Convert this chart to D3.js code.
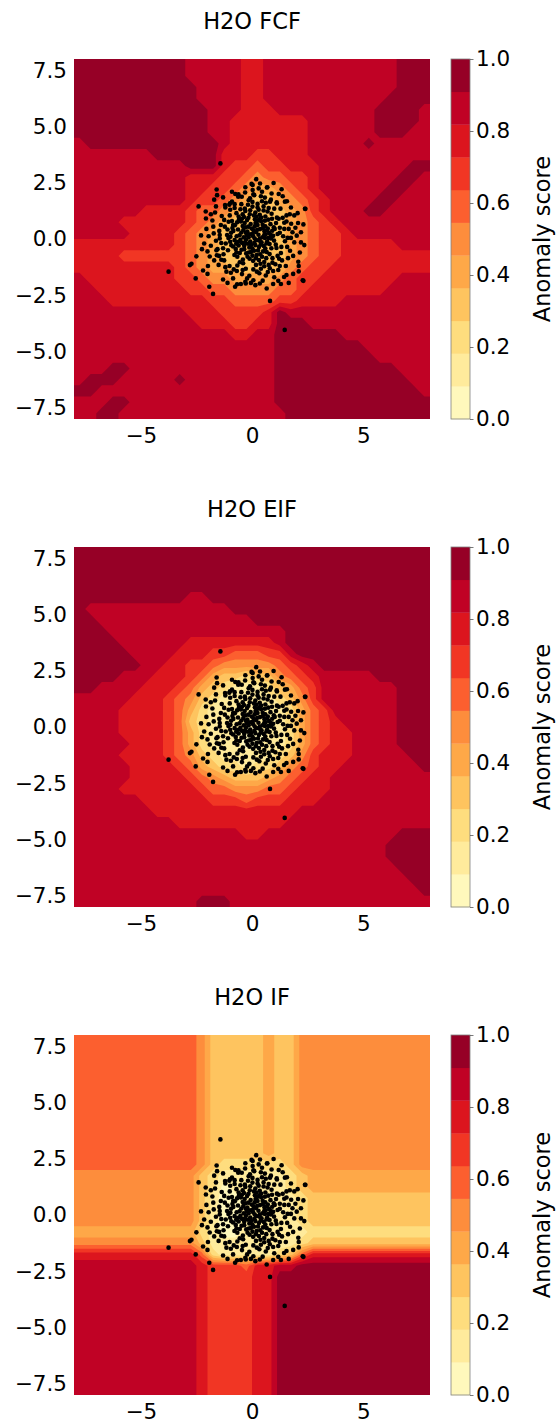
<!DOCTYPE html>
<html>
<head>
<meta charset="utf-8">
<script src="https://cdn.jsdelivr.net/npm/d3@7"></script>
<style>
  body { margin: 0; background: #fff; }
  svg text { font-family: "DejaVu Sans", sans-serif; fill: #000; }
</style>
</head>
<body>
<div class="canvas"></div>
<script>
// margins and dimensions
const w = 557;
const h = 1424;
const margin = { left: 74, top: 59 };
const plotW = 356;
const plotH = 360;
const panelStep = 488;
const cbX = 451;
const cbW = 19;

// chart values
const titles = ["H2O FCF", "H2O EIF", "H2O IF"];
const xTicks = [-5, 0, 5];
const yTicks = [7.5, 5, 2.5, 0, -2.5, -5, -7.5];
const cbTicks = [0, 0.2, 0.4, 0.6, 0.8, 1.0];
const extent = [-8, 8];
const nLevels = 11;
const gridN = 32;

// score level of each 0.5 x 0.5 cell, top row first, run-length coded:
// "a10" = level 10 for 10 cells, "95" = level 9 for 5 cells (level k = k/11 .. (k+1)/11)
const fcfRows = [
  "a10 95 82 912 a3",
  "a10 95 82 912 a3",
  "a11 94 82 912 a3",
  "a11 94 82 911 a4",
  "a12 93 83 99 a4 91",
  "a12 92 87 96 a4 91",
  "a12 92 87 96 a3 92",
  "91 a12 91 87 95 a1 95",
  "97 a6 83 72 83 911",
  "910 a3 81 72 61 72 83 98 a2",
  "910 83 72 61 51 62 72 81 97 a2 91",
  "910 82 72 61 51 42 51 61 71 81 96 a2 92",
  "910 81 72 61 51 41 32 41 51 61 71 81 94 a2 93",
  "96 84 71 62 51 41 34 41 51 71 81 93 a2 94",
  "94 86 71 61 51 41 35 41 51 61 71 81 98",
  "95 84 71 61 51 41 36 41 51 61 72 81 97",
  "89 71 61 51 41 36 41 51 61 72 85 93",
  "84 76 61 51 41 36 41 51 61 72 88",
  "89 71 61 51 42 35 51 61 72 89",
  "91 88 72 61 52 44 51 61 72 87 93",
  "92 88 72 62 54 62 71 87 94",
  "93 89 72 64 72 84 98",
  "910 83 74 81 a1 913",
  "911 83 72 82 a3 911",
  "914 82 92 a6 98",
  "918 a8 96",
  "918 a9 95",
  "93 a2 913 a11 93",
  "91 a3 95 a1 98 a12 92",
  "a2 916 a13 91",
  "93 a2 913 a14",
  "92 a2 915 a13"
];

const eifRows = [
  "a32",
  "a32",
  "a32",
  "a32",
  "a10 92 a20",
  "a1 913 a18",
  "a2 914 a16",
  "a3 916 a13",
  "a4 96 88 91 a13",
  "a5 94 83 72 63 72 91 a12",
  "a6 92 82 72 61 55 61 71 81 91 a10",
  "a4 93 83 71 61 41 32 21 32 51 61 71 81 95 a5",
  "a2 94 83 71 61 41 31 21 13 21 31 41 61 71 97 a3",
  "95 83 71 61 51 31 21 15 21 31 51 71 97 a3",
  "94 84 71 61 41 21 17 21 41 61 71 96 a3",
  "94 84 71 61 31 21 17 21 41 61 71 81 95 a3",
  "94 84 71 61 41 21 13 02 12 21 41 61 71 82 94 a3",
  "95 83 71 61 41 21 13 02 12 21 41 61 71 82 94 a3",
  "94 84 71 61 51 31 21 15 21 31 51 71 83 95 a2",
  "95 84 71 61 41 31 22 11 22 31 51 61 71 82 97 a1",
  "95 85 71 61 51 41 33 41 51 61 71 82 99",
  "94 87 71 62 53 62 71 83 99",
  "96 86 73 61 73 83 910",
  "97 813 912",
  "99 810 913",
  "915 82 912 a3",
  "928 a4",
  "928 a4",
  "929 a3",
  "930 a2",
  "931 a1",
  "911 a3 918"
];

const ifRows = [
  "611 51 35 41 32 512",
  "611 51 35 41 32 512",
  "611 51 35 41 32 512",
  "611 51 35 41 32 512",
  "611 51 35 41 32 512",
  "611 51 35 41 32 512",
  "611 51 35 41 32 512",
  "611 51 35 41 32 512",
  "611 51 35 41 32 512",
  "611 51 35 41 32 512",
  "611 51 35 41 32 512",
  "611 51 31 26 31 512",
  "511 31 21 16 21 31 411",
  "511 31 21 01 15 21 31 411",
  "511 31 11 02 14 11 21 311",
  "511 31 11 02 14 11 21 311",
  "511 31 11 02 14 11 21 311",
  "411 21 11 02 16 211",
  "511 31 18 21 311",
  "811 61 21 15 21 31 61 811",
  "911 81 73 61 82 92 a12",
  "911 81 74 82 a14",
  "911 81 74 82 a14",
  "911 81 74 82 a14",
  "911 81 74 82 a14",
  "911 81 74 82 a14",
  "911 81 74 82 a14",
  "911 81 74 82 a14",
  "911 81 74 82 a14",
  "911 81 74 82 a14",
  "911 81 74 82 a14",
  "911 81 74 82 a14"
];

// sample points (x, y), same in all three panels
const pts = [
  [0.05,0.12],[-0.21,0.33],[0.34,-0.08],[-0.45,-0.17],[0.12,0.56],[0.61,0.21],[-0.63,0.42],[0.27,-0.51],[-0.12,-0.38],[0.48,0.63],
  [-0.33,0.71],[0.79,-0.22],[-0.78,-0.05],[0.02,-0.74],[0.41,0.95],[-0.55,-0.62],[0.66,-0.58],[-0.94,0.28],[0.91,0.37],[-0.16,0.94],
  [0.18,0.31],[-0.37,0.08],[0.29,0.19],[-0.08,-0.11],[0.53,-0.31],[-0.26,-0.64],[0.74,0.05],[-0.69,0.12],[0.15,-0.27],[-0.48,0.29],
  [0.36,0.44],[-0.02,0.47],[0.87,-0.41],[-0.85,-0.33],[0.22,0.78],[-0.59,0.86],[0.58,0.81],[-0.11,-0.88],[0.45,-0.79],[-0.41,-0.91],
  [0.09,-0.52],[-0.73,-0.44],[0.95,0.14],[-0.98,-0.12],[0.31,-0.93],[0.71,0.47],[-0.29,0.52],[0.03,0.23],[-0.18,-0.21],[0.47,0.08],
  [-0.52,-0.03],[0.19,-0.05],[0.83,0.66],[-0.77,0.61],[0.64,-0.85],[-0.66,-0.79],[0.13,0.88],[-0.35,-0.45],[0.39,-0.25],[-0.06,0.67],
  [0.56,0.35],[-0.88,0.49],[0.25,0.62],[-0.23,0.17],[0.68,-0.11],[-0.6,-0.29],[0.07,0.39],[-0.42,0.58],[0.5,-0.55],[-0.14,-0.6],
  [0.99,-0.07],[-0.31,-0.15],[0.35,0.02],[-0.04,-0.27],[0.77,0.27],[-0.7,-0.6],[0.21,-0.71],[-0.5,0.78],[0.6,0.56],[-0.97,0.1],
  [0.2,1.0],[-0.1,1.1],[0.6,1.0],[-0.6,1.0],[0.9,0.9],[-0.9,0.8],[0.3,1.3],[-0.3,1.25],[1.2,0.9],[-1.25,0.85],
  [1.15,0.22],[1.32,-0.35],[1.08,0.71],[1.45,0.45],[1.22,-0.88],[1.6,0.05],[1.38,0.94],[1.05,-1.12],[1.71,-0.52],[1.55,0.78],
  [-1.12,0.18],[-1.3,-0.41],[-1.05,0.77],[-1.47,0.36],[-1.25,-0.95],[-1.62,-0.08],[-1.36,1.02],[-1.01,-1.2],[-1.74,0.55],[-1.58,-0.72],
  [0.15,1.18],[-0.32,1.35],[0.52,1.27],[-0.7,1.15],[0.88,1.12],[0.25,1.56],[-0.15,1.72],[0.62,1.61],[-0.48,1.55],[0.02,1.44],
  [0.18,-1.15],[-0.28,-1.32],[0.55,-1.21],[-0.66,-1.18],[0.92,-1.05],[0.33,-1.52],[-0.12,-1.63],[0.71,-1.47],[-0.45,-1.56],[0.06,-1.35],
  [1.28,1.35],[-1.2,1.4],[1.18,-1.38],[-1.15,-1.45],[1.82,0.3],[-1.85,-0.3],[1.7,1.1],[-1.66,1.18],[1.52,-1.2],[-1.5,-1.15],
  [1.9,-0.15],[-1.95,0.12],[0.4,1.9],[-0.62,1.88],[0.85,1.75],[-0.9,1.66],[0.48,-1.85],[-0.3,-1.9],[1.0,-1.7],[-0.85,-1.75],
  [1.12,1.58],[-1.02,1.52],[1.4,0.12],[-1.38,-0.18],[1.25,0.5],[-1.22,0.55],[1.3,-0.62],[-1.28,-0.68],[0.75,1.38],[-0.78,1.38],
  [0.8,-1.3],[-0.82,-1.35],[1.62,-0.85],[-1.7,-0.95],[1.76,0.68],[-1.78,0.82],[0.1,1.95],[-0.05,-1.95],[1.95,0.5],[-2.0,-0.55],
  [1.48,-0.1],[-1.45,0.02],[1.1,-0.4],[-1.08,-0.5],[1.02,0.45],[-1.1,0.42],[0.35,1.08],[-0.42,1.1],[0.38,-1.1],[-0.4,-1.08],
  [-1.42,3.36],[-1.59,2.2],[-1.57,1.95],[-2.4,1.45],[0.19,2.66],[-0.02,2.45],[0.97,2.49],[0.67,2.29],[1.33,2.21],[1.57,1.68],
  [2.4,1.34],[-2.07,0.91],[2.07,0.71],[2.31,0.65],[2.01,0.15],[2.35,-0.27],[-2.29,0.16],[-2.5,-0.77],[-2.79,-1.16],[-2.72,-1.1],
  [-3.75,-1.45],[-2.53,-1.75],[-1.92,-2.12],[-1.75,-2.44],[0.81,-2.75],[1.47,-4.04],[0.66,-2.2],[1.18,-1.86],[2.31,-1.86],[2.28,-1.83],
  [2.1,-1.44],[2.08,-1.01],[-0.76,-2.12],[-0.67,-2.01],[-0.28,-1.98],[0.06,-1.83],[1.44,-1.69],
  [0.36,2.47],[0.03,2.4],[0.69,2.3],[0.03,2.18],[-0.31,2.07],[-0.61,1.99],[-0.46,1.88],[0.06,1.99],[-0.09,1.81],[0.58,1.84],
  [0.81,1.66],[1.11,1.63],[1.48,1.66],[-1.21,1.51],[-0.99,1.59],[2.38,1.34],
  [-2.05,0.45],[-2.15,-0.2],[-1.98,-1.2],[-2.2,-1.4],[1.85,-1.55],[2.15,-0.6],[2.2,0.3],[1.9,1.05],[-1.85,1.1],[-1.7,1.75],
  [1.2,2.0],[-0.9,2.1],[0.45,2.1],[-1.3,-1.8],[-0.5,-2.0],[0.35,-1.98],[0.95,-2.0],[1.65,-1.95],
  [0.12,0.02],[-0.09,0.21],[0.24,0.41],[-0.27,-0.02],[0.43,-0.15],[-0.16,0.55],[0.02,-0.42],[0.55,0.18],[-0.39,0.4],[0.31,-0.36],
  [-0.56,0.17],[0.16,0.71],[-0.05,-0.58],[0.68,0.38],[-0.71,-0.21],[0.41,0.79],[-0.22,0.84],[0.85,0.02],[-0.84,0.36],[0.6,-0.42],
  [-0.47,-0.48],[0.09,1.05],[-0.36,0.98],[0.73,0.86],[-0.67,0.74],[0.98,0.52],[-0.93,-0.28],[0.37,-0.68],[-0.2,-0.79],[0.79,-0.67],
  [-0.79,-0.71],[0.05,-0.97],[0.55,-1.02],[-0.55,-1.03],[1.07,-0.25],[-1.06,0.04],[1.12,0.95],[-1.0,1.05],[0.25,1.4],[-0.52,1.32],
  [0.7,1.22],[-0.18,1.52],[0.45,1.68],[-0.78,1.55],[1.0,1.35],[1.45,0.72],[-1.4,0.62],[1.58,-0.35],[-1.55,-0.45],[1.35,-0.95],
  [-1.38,-0.92],[0.95,-1.42],[-0.95,-1.5],[0.22,-1.45],[-0.42,-1.38],[0.62,-1.62],[-0.22,-1.75],[1.25,-1.2],[-1.2,-1.25],[1.75,0.05],
  [-1.72,0.25],[1.65,0.45],[-1.6,-0.5],[1.85,-0.75],[-1.9,-0.78],[0.3,2.25],[-0.3,2.3],[0.88,2.02],[-0.75,2.0],[1.38,1.9],
  [-1.3,1.85],[1.75,1.4],[-1.62,1.45],[2.05,1.15],[-2.08,1.22],[2.2,-0.15],[-2.25,-0.45],[2.1,-1.2],[-2.0,-1.55],[1.55,-1.6],
  [0.15,-2.05],[-1.1,-1.95],[1.3,-2.0],[0.85,0.18],[-0.85,0.62],[0.48,0.48],[-0.62,-0.12],[0.18,-0.85],[-0.28,0.28],[0.65,-0.2],
  [0.32,0.88],[-0.45,0.9],[0.92,-0.85],[-0.08,1.28],[0.52,1.45],[-0.98,1.3],[1.25,0.28],[-1.18,-0.2],[1.15,-0.75],[-1.45,0.18],
  [0.75,-1.15],[-0.68,-1.42],[0.02,1.65],[1.55,1.05],[-1.48,-0.75],[0.4,-1.32],[-0.15,0.08],[0.1,-0.18],[0.58,0.05],[-0.35,-0.3]
];

// main svg
const svg = d3.select(".canvas").append("svg").attr("width", w).attr("height", h);

// scales
const x = d3.scaleLinear().domain(extent).range([0, plotW]);
const y = d3.scaleLinear().domain(extent).range([plotH, 0]);
const cb = d3.scaleLinear().domain([0, 1]).range([plotH, 0]);
// padded grid (one extra cell each side) -> data coords
const gx = d3.scaleLinear().domain([1, gridN + 1]).range(extent);
const gy = d3.scaleLinear().domain([1, gridN + 1]).range([extent[1], extent[0]]);

// YlOrRd, linear between the 9 brewer colours, sampled at each level's middle
const ylorrd = d3.scaleLinear().domain(d3.range(9).map((i) => i / 8)).range(d3.schemeYlOrRd[9]);
const levelColor = (k) => ylorrd((k + 0.5) / nLevels);
const thresholds = d3.range(nLevels).map((k) => k / nLevels);

const path = d3.geoPath(
  d3.geoTransform({
    point(px, py) {
      this.stream.point(x(gx(px)), y(gy(py)));
    },
  })
);

// run-length rows -> padded value grid
function decode(rows) {
  const grid = rows.map((row) => {
    const vals = [];
    row.split(" ").forEach((tok) => {
      const level = parseInt(tok[0], 11);
      const count = +tok.slice(1);
      for (let i = 0; i < count; i++) vals.push((level + 0.5) / nLevels);
    });
    if (vals.length !== gridN) throw new Error("bad row (" + vals.length + "): " + row);
    return [vals[0], ...vals, vals[gridN - 1]];
  });
  const padded = [grid[0], ...grid, grid[gridN - 1]];
  return padded.flat();
}

[fcfRows, eifRows, ifRows].forEach((rows, i) => {
  const top = margin.top + i * panelStep;
  const contours = d3.contours().size([gridN + 2, gridN + 2]).thresholds(thresholds)(decode(rows));

  // title
  svg
    .append("text")
    .attr("x", margin.left + plotW / 2)
    .attr("y", top - 30.5)
    .attr("text-anchor", "middle")
    .style("font-size", "22.5px")
    .text(titles[i]);

  const graph = svg.append("g").attr("transform", `translate(${margin.left}, ${top})`);

  graph.append("clipPath").attr("id", "clip" + i).append("rect").attr("width", plotW).attr("height", plotH);

  // filled contours
  graph
    .append("g")
    .attr("clip-path", `url(#clip${i})`)
    .selectAll("path")
    .data(contours)
    .join("path")
    .attr("d", path)
    .attr("fill", (d) => levelColor(Math.round(d.value * nLevels)));

  // points
  graph
    .append("g")
    .selectAll("circle")
    .data(pts)
    .join("circle")
    .attr("cx", (d) => x(d[0]))
    .attr("cy", (d) => y(d[1]))
    .attr("r", 2.3)
    .attr("fill", "#000");

  // axes, labels only
  const yAxis = graph
    .append("g")
    .call(d3.axisLeft(y).tickValues(yTicks).tickSize(0).tickPadding(7).tickFormat(d3.format(".1f")));
  const xAxis = graph
    .append("g")
    .attr("transform", `translate(0, ${plotH})`)
    .call(d3.axisBottom(x).tickValues(xTicks).tickSize(0).tickPadding(8.5).tickFormat(d3.format("d")));
  [yAxis, xAxis].forEach((a) => {
    a.select(".domain").remove();
    a.selectAll("text").style("font-size", "21.5px");
  });

  // colorbar
  const bar = graph.append("g").attr("transform", `translate(${cbX - margin.left}, 0)`);
  bar
    .selectAll("rect")
    .data(d3.range(nLevels))
    .join("rect")
    .attr("y", (k) => cb((k + 1) / nLevels))
    .attr("height", (k) => cb(k / nLevels) - cb((k + 1) / nLevels) + 0.3)
    .attr("width", cbW)
    .attr("fill", levelColor);
  bar
    .append("rect")
    .attr("width", cbW)
    .attr("height", plotH)
    .attr("fill", "none")
    .attr("stroke", "#808080")
    .attr("stroke-width", 0.8);
  const cbAxis = bar
    .append("g")
    .attr("transform", `translate(${cbW}, 0)`)
    .call(d3.axisRight(cb).tickValues(cbTicks).tickSize(3.5).tickPadding(2.5).tickFormat(d3.format(".1f")));
  cbAxis.select(".domain").remove();
  cbAxis.selectAll("line").attr("stroke", "#555").attr("stroke-width", 0.8);
  cbAxis.selectAll("text").style("font-size", "21.5px");

  bar
    .append("text")
    .attr("transform", `translate(${550 - cbX}, ${plotH / 2}) rotate(-90)`)
    .attr("text-anchor", "middle")
    .style("font-size", "22.5px")
    .text("Anomaly score");
});
</script>
</body>
</html>
